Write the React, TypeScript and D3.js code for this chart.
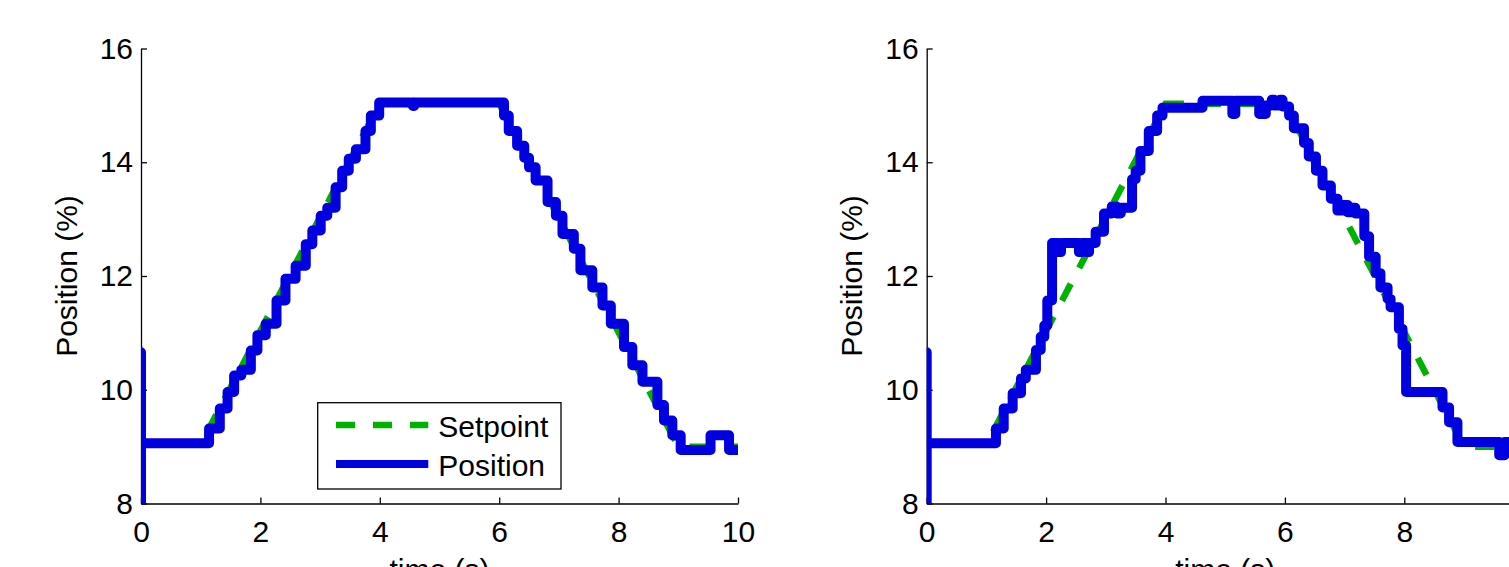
import {useEffect, useRef} from 'react';
import * as d3 from 'd3';

const [W, H] = [1509, 567];
const FONT = '"Liberation Sans", Arial, Helvetica, sans-serif';

// plot box of one axes, in page pixels
const PLOT_W = 597;
const PLOT_TOP = 48.5;
const PLOT_BOTTOM = 503.5;
const PANEL_X = [141, 926.7];

const TIME_TICKS = [0, 2, 4, 6, 8, 10];
const POS_TICKS = [8, 10, 12, 14, 16];

// setpoint trajectory (same for both runs)
const setpointT = [0, 1, 4, 6, 9, 10];
const setpointV = [9.04, 9.04, 15.03, 15.03, 9.0, 9.0];

// measured position, left run (step start times / levels)
const leftPosT = [0, 0, 0, 1.14, 1.32, 1.45, 1.56, 1.68, 1.84, 1.95, 2.09, 2.27, 2.42,
    2.59, 2.76, 2.87, 3.01, 3.12, 3.26, 3.37, 3.48, 3.6, 3.76, 3.85, 3.99, 4.555, 4.575,
    6.08, 6.16, 6.3, 6.42, 6.5, 6.61, 6.81, 6.95, 7.06, 7.25, 7.36, 7.56, 7.73, 7.87,
    8.09, 8.23, 8.4, 8.65, 8.76, 8.9, 9.04, 9.54, 9.85, 10];
const leftPosV = [7.5, 10.66, 9.06, 9.32, 9.67, 9.96, 10.25, 10.35, 10.69, 10.96, 11.16, 11.57, 11.95,
    12.18, 12.56, 12.8, 13.06, 13.2, 13.56, 13.85, 14.06, 14.23, 14.55, 14.82, 15.05, 14.99, 15.05,
    14.82, 14.55, 14.29, 14.08, 13.91, 13.68, 13.3, 13.06, 12.74, 12.48, 12.1, 11.8, 11.48, 11.16,
    10.75, 10.43, 10.14, 9.73, 9.46, 9.2, 8.94, 9.2, 8.94, 8.94];

// measured position, right run
const rightPosT = [0, 0, 0, 1.16, 1.29, 1.44, 1.58, 1.66, 1.83, 1.91, 1.97, 2.02, 2.1,
    2.2, 2.25, 2.55, 2.6, 2.68, 2.72, 2.83, 2.97, 3.1, 3.18, 3.25,
    3.44, 3.5, 3.58, 3.72, 3.86, 3.95, 4.62, 5.12, 5.17, 5.57, 5.68, 5.78, 5.82, 5.92, 5.96,
    6.07, 6.15, 6.32, 6.4, 6.52, 6.63, 6.77, 6.88, 6.98, 7.05, 7.12, 7.18,
    7.33, 7.41, 7.52, 7.6, 7.72, 7.77, 7.91, 7.97, 8.03, 8.64, 8.75, 8.89, 9.59, 9.68, 10];
const rightPosV = [7.5, 10.66, 9.06, 9.32, 9.67, 9.94, 10.2, 10.35, 10.7, 10.93, 11.13, 11.57, 12.58,
    12.42, 12.58, 12.42, 12.58, 12.42, 12.58, 12.78, 13.1, 13.22, 13.1, 13.2,
    13.7, 13.85, 14.2, 14.55, 14.82, 14.96, 15.08, 14.85, 15.08, 14.85, 15.0, 15.1, 15.0, 15.1, 14.98,
    14.82, 14.6, 14.34, 14.1, 13.85, 13.59, 13.36, 13.15, 13.25, 13.12, 13.2, 13.1,
    12.7, 12.34, 12.05, 11.8, 11.6, 11.45, 11.07, 10.78, 9.96, 9.69, 9.43, 9.08, 8.85, 9.08, 9.08];

const GREEN = '#00b200';
const BLUE = '#0000e0';

function Panel({x0, posT, posV, legend, id}) {
    const xAxis = useRef();
    const yAxis = useRef();

    const x = d3.scaleLinear().domain([0, 10]).range([0, PLOT_W]);
    const y = d3.scaleLinear().domain([8, 16]).range([PLOT_BOTTOM - PLOT_TOP, 0]);
    const ph = PLOT_BOTTOM - PLOT_TOP;

    const spLine = d3.line().x(d => x(d[0])).y(d => y(d[1]));
    const posLine = d3.line().x(d => x(d[0])).y(d => y(d[1])).curve(d3.curveStepAfter);

    const spData = setpointT.map((t, i) => [t, setpointV[i]]);
    const posData = posT.map((t, i) => [t, posV[i]]);

    useEffect(() => {
        const style = g => {
            g.select('.domain').attr('stroke', '#000').attr('stroke-width', 1.3);
            g.selectAll('.tick line').attr('stroke', '#000').attr('stroke-width', 1.3);
            g.selectAll('.tick text').attr('fill', '#000').style('font-size', '30px').style('font-family', FONT);
        };
        d3.select(xAxis.current)
            .call(d3.axisBottom(x).tickValues(TIME_TICKS).tickSizeInner(-6).tickSizeOuter(0).tickPadding(17))
            .call(style);
        d3.select(yAxis.current)
            .call(d3.axisLeft(y).tickValues(POS_TICKS).tickSizeInner(-6).tickSizeOuter(0).tickPadding(8))
            .call(style);
    }, []);

    return (
        <g transform={`translate(${x0},${PLOT_TOP})`}>
            <defs>
                <clipPath id={id}>
                    <rect x={0} y={0} width={PLOT_W} height={ph} />
                </clipPath>
            </defs>
            <g ref={xAxis} transform={`translate(0,${ph})`} />
            <g ref={yAxis} />
            <g clipPath={`url(#${id})`}>
                <path d={spLine(spData)} fill="none" stroke={GREEN} strokeWidth={6.5} strokeDasharray="19 18" />
                <path d={posLine(posData)} fill="none" stroke={BLUE} strokeWidth={10} strokeLinejoin="round" strokeLinecap="round" />
            </g>
            <text x={PLOT_W / 2} y={580 - PLOT_TOP} textAnchor="middle" fontSize={30} fontFamily={FONT}>time (s)</text>
            <text transform={`translate(-64.5,${ph / 2}) rotate(-90)`} textAnchor="middle" fontSize={30} fontFamily={FONT}>Position (%)</text>
            {legend && (
                <g transform={`translate(${317.7 - 141},${402.7 - PLOT_TOP})`}>
                    <rect x={0} y={0} width={243.3} height={86.3} fill="#fff" stroke="#000" strokeWidth={1.3} />
                    <line x1={18.3} x2={110.6} y1={22.3} y2={22.3} stroke={GREEN} strokeWidth={6.5} strokeDasharray="19 18" />
                    <line x1={18.3} x2={110.6} y1={61.3} y2={61.3} stroke={BLUE} strokeWidth={8} />
                    <text x={120.6} y={34} fontSize={30} fontFamily={FONT}>Setpoint</text>
                    <text x={120.6} y={73.3} fontSize={30} fontFamily={FONT}>Position</text>
                </g>
            )}
        </g>
    );
}

export default function App() {
    return (
        <div style={{position: 'absolute', left: 0, top: 0, width: W, height: H, overflow: 'hidden', background: '#fff'}}>
            <svg width={W} height={H}>
                <Panel id="clipL" x0={PANEL_X[0]} posT={leftPosT} posV={leftPosV} legend={true} />
                <Panel id="clipR" x0={PANEL_X[1]} posT={rightPosT} posV={rightPosV} legend={false} />
            </svg>
        </div>
    );
}
